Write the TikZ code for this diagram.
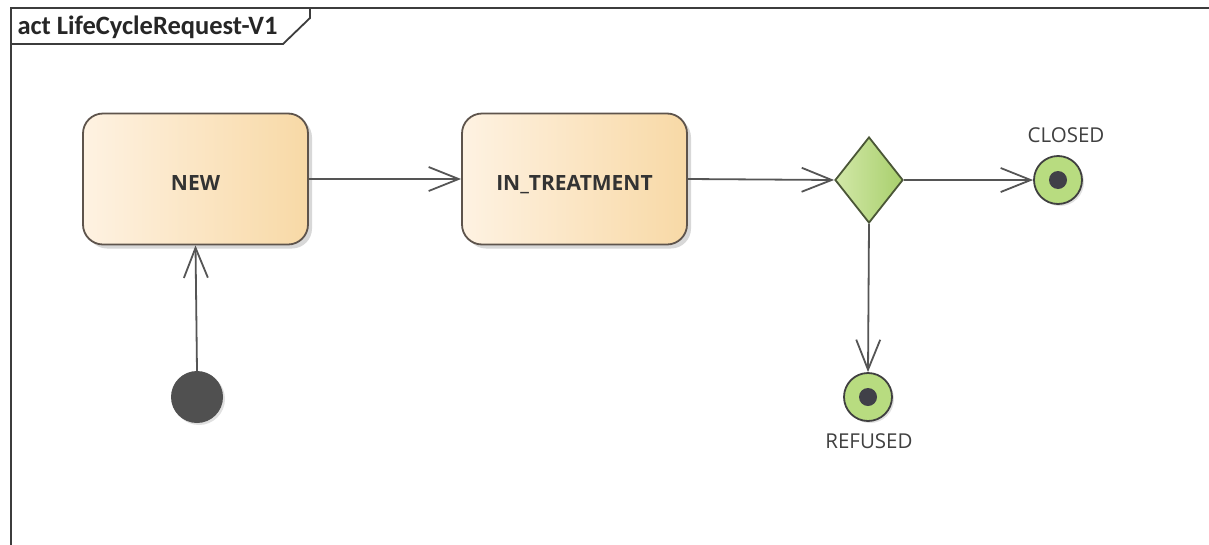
\documentclass[tikz,border=0pt]{standalone}
\usepackage{fontspec}
\setmainfont{Carlito}
\newfontfamily\uifont{Open Sans}
\usetikzlibrary{arrows.meta,shapes.geometric,shadows}
\definecolor{frameC}{HTML}{3C3C3C}
\definecolor{boxL}{HTML}{FEF2E2}
\definecolor{boxR}{HTML}{F8D9A6}
\definecolor{boxB}{HTML}{5E544C}
\definecolor{grnL}{HTML}{D2E8A8}
\definecolor{grnR}{HTML}{A8CF6C}
\definecolor{grnB}{HTML}{4A5636}
\definecolor{endF}{HTML}{B8DC80}
\definecolor{dotC}{HTML}{404048}
\definecolor{initC}{HTML}{505050}
\definecolor{lineC}{HTML}{555555}
\tikzset{
  statebox/.style={draw=boxB, line width=1.8pt, rounded corners=20pt,
    left color=boxL, right color=boxR, minimum width=225pt, minimum height=131pt,
    inner sep=0pt, text height=22pt, text depth=0pt,
    font=\uifont\bfseries\fontsize{21}{24}\selectfont, text=black!80,
    drop shadow={shadow xshift=4pt, shadow yshift=-4pt, fill=black!25, opacity=0.6}},
  decision/.style={diamond, draw=grnB, line width=1.8pt, left color=grnL, right color=grnR,
    minimum width=68pt, minimum height=86pt, inner sep=0pt, aspect=0.79},
  endstate/.style={circle, draw=black!75, line width=1.8pt, fill=endF,
    minimum size=48pt, inner sep=0pt,
    drop shadow={shadow xshift=2pt, shadow yshift=-2pt, fill=black!20, opacity=0.6}},
  initstate/.style={circle, fill=initC, minimum size=52pt, inner sep=0pt,
    drop shadow={shadow xshift=2pt, shadow yshift=-2pt, fill=black!20, opacity=0.6}},
  flow/.style={draw=lineC, line width=1.8pt, -{Straight Barb[length=30pt,width=24pt,line width=1.8pt]}},
  lbl/.style={font=\uifont\fontsize{20.5}{23}\selectfont, text=black!75}
}
\begin{document}
\begin{tikzpicture}[x=1pt,y=-1pt]
\useasboundingbox (0,0) rectangle (1209,544);
\fill[white] (0,0) rectangle (1209,544);
% frame
\draw[frameC, line width=2.4pt] (11,546) -- (11,8) -- (1211,8);
\draw[frameC, line width=1.8pt] (11,44) -- (283,44) -- (310,18) -- (310,8);
\node[anchor=west, font=\bfseries\fontsize{26.5}{30}\selectfont, text=black!85] (title) at (14,27) {act LifeCycleRequest-V1};
% nodes
\node[statebox] (new) at (195.5,179) {NEW};
\node[statebox] (treat) at (574.5,179) {IN\_TREATMENT};
\node[decision] (dec) at (869,180) {};
\node[endstate] (closed) at (1058,180) {};
\fill[dotC] (closed.center) circle (9pt);
\node[endstate] (refused) at (868,397) {};
\fill[dotC] (refused.center) circle (9pt);
\node[initstate] (init) at (197,397) {};
\node[lbl] (closedL) at (1066,135) {CLOSED};
\node[lbl] (refusedL) at (869,441) {REFUSED};
% flows
\draw[flow] (new.east) -- (treat.west);
\draw[flow] (treat.east) -- (dec.west);
\draw[flow] (dec.east) -- (closed.west);
\draw[flow] (dec.south) -- (refused.north);
\draw[flow] (init.north) -- (new.south);
\end{tikzpicture}
\end{document}
